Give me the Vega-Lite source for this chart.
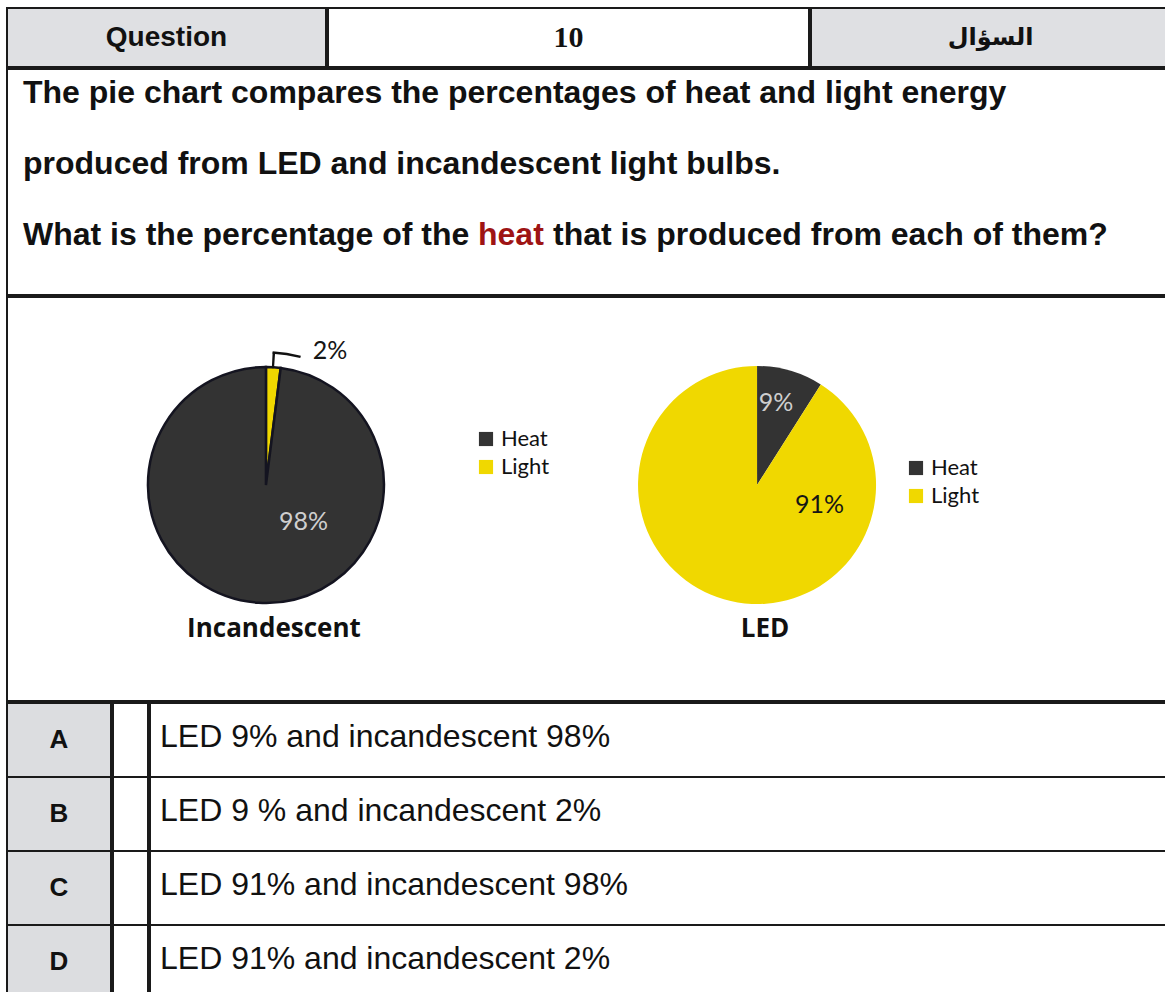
{
  "$schema": "https://vega.github.io/schema/vega-lite/v6.json",
  "padding": {"left": 6, "top": 7, "right": 0, "bottom": 0},
  "background": "#ffffff",
  "spacing": 0,
  "config": {
    "view": {"stroke": null},
    "font": "Liberation Sans",
    "legend": {"symbolType": "square", "symbolSize": 200, "labelFont": "Lato", "labelFontSize": 22, "labelColor": "#111111", "labelOffset": 4, "rowPadding": 6, "symbolStrokeWidth": 0, "padding": 0}
  },
  "resolve": {"scale": {"color": "independent", "fill": "independent"}, "legend": {"color": "independent", "fill": "independent"}},
  "datasets": {
    "question": [
      {"line": 1, "part": "lead", "text": "The pie chart compares the percentages of heat and light energy"},
      {"line": 2, "part": "lead", "text": "produced from LED and incandescent light bulbs."},
      {"line": 3, "part": "lead", "text": "What is the percentage of the"},
      {"line": 3, "part": "keyword", "text": "heat"},
      {"line": 3, "part": "tail", "text": "that is produced from each of them?"}
    ],
    "energy": [
      {"bulb": "Incandescent", "energy": "Light", "pct": 2},
      {"bulb": "Incandescent", "energy": "Heat", "pct": 98},
      {"bulb": "LED", "energy": "Heat", "pct": 9},
      {"bulb": "LED", "energy": "Light", "pct": 91}
    ],
    "labels": [
      {"bulb": "Incandescent", "energy": "Light", "label": "2%", "at": 7.1, "r": 1.26},
      {"bulb": "Incandescent", "energy": "Heat", "label": "98%", "at": 37.3, "r": 0.445},
      {"bulb": "LED", "energy": "Heat", "label": "9%", "at": 3.6, "r": 0.715},
      {"bulb": "LED", "energy": "Light", "label": "91%", "at": 29.9, "r": 0.555}
    ],
    "bulbs": [{"bulb": "Incandescent"}, {"bulb": "LED"}],
    "options": [
      {"opt": "A", "text": "LED 9% and incandescent 98%"},
      {"opt": "B", "text": "LED 9 % and incandescent 2%"},
      {"opt": "C", "text": "LED 91% and incandescent 98%"},
      {"opt": "D", "text": "LED 91% and incandescent 2%"}
    ]
  },
  "vconcat": [
    {
      "spacing": 0,
      "hconcat": [
        {"width": 319, "height": 59, "data": {"values": [{"label": "Question"}]},
         "view": {"fill": "#dfe0e3", "stroke": "#1a1a1a", "strokeWidth": 2},
         "mark": {"type": "text", "fontSize": 28, "fontWeight": "bold", "font": "Liberation Sans", "color": "#111111"},
         "encoding": {"text": {"field": "label"}}},
        {"width": 481, "height": 59, "data": {"values": [{"label": "10"}]},
         "view": {"fill": "#ffffff", "stroke": "#1a1a1a", "strokeWidth": 2},
         "mark": {"type": "text", "fontSize": 30, "fontWeight": "bold", "font": "Liberation Serif", "color": "#111111"},
         "encoding": {"text": {"field": "label"}}},
        {"width": 359, "height": 59, "data": {"values": [{"label": "السؤال"}]},
         "view": {"fill": "#dfe0e3", "stroke": "#1a1a1a", "strokeWidth": 2},
         "mark": {"type": "text", "fontSize": 24, "fontWeight": "bold", "font": "DejaVu Sans", "color": "#111111"},
         "encoding": {"text": {"field": "label"}}}
      ]
    },
    {
      "width": 1159, "height": 226,
      "data": {"name": "question"},
      "view": {"stroke": "#1a1a1a", "strokeWidth": 2},
      "encoding": {
        "x": {"datum": 0, "type": "quantitative", "scale": {"domain": [0, 1], "nice": false}, "axis": null},
        "y": {"field": "line", "type": "ordinal", "scale": {"type": "point", "padding": 0.5915, "align": 0.2857}, "axis": null},
        "text": {"field": "text"}
      },
      "layer": [
        {"transform": [{"filter": "datum.part == 'lead'"}],
         "mark": {"type": "text", "align": "left", "dx": 16, "fontSize": 32, "fontWeight": "bold", "font": "Liberation Sans", "color": "#111111"}},
        {"transform": [{"filter": "datum.part == 'keyword'"}],
         "mark": {"type": "text", "align": "left", "dx": 471, "fontSize": 32, "fontWeight": "bold", "font": "Liberation Sans", "color": "#9e1414"}},
        {"transform": [{"filter": "datum.part == 'tail'"}],
         "mark": {"type": "text", "align": "left", "dx": 546, "fontSize": 32, "fontWeight": "bold", "font": "Liberation Sans", "color": "#111111"}}
      ]
    },
    {
      "width": 1159, "height": 404,
      "view": {"stroke": "#1a1a1a", "strokeWidth": 2},
      "layer": [
        {
          "data": {"name": "energy"},
          "transform": [{"filter": "datum.bulb == 'Incandescent'"}, {"stack": "pct", "groupby": ["bulb"], "as": ["t0", "t1"]}],
          "mark": {"type": "arc", "outerRadius": 118, "stroke": "#141420", "strokeWidth": 2.5},
          "encoding": {
            "x": {"field": "bulb", "type": "nominal", "scale": {"type": "point", "domain": ["Incandescent", "LED"], "padding": 0.68, "align": 0.3877}, "axis": null},
            "y": {"datum": 0, "type": "quantitative", "scale": {"domain": [-1.149, 1], "nice": false, "zero": false}, "axis": null},
            "theta": {"field": "t0", "type": "quantitative", "stack": null, "scale": {"domain": [0, 100], "nice": false}},
            "theta2": {"field": "t1"},
            "color": {"field": "energy", "type": "nominal", "scale": {"range": ["#333333", "#f0d800"]},
                      "legend": {"orient": "none", "legendX": 468, "legendY": 131, "title": null}}
          }
        },
        {
          "data": {"name": "energy"},
          "transform": [{"filter": "datum.bulb == 'LED'"}, {"stack": "pct", "groupby": ["bulb"], "as": ["t0", "t1"]}],
          "mark": {"type": "arc", "outerRadius": 119},
          "encoding": {
            "x": {"field": "bulb", "type": "nominal", "scale": {"type": "point", "domain": ["Incandescent", "LED"], "padding": 0.68, "align": 0.3877}, "axis": null},
            "y": {"datum": 0, "type": "quantitative", "scale": {"domain": [-1.149, 1], "nice": false, "zero": false}, "axis": null},
            "theta": {"field": "t0", "type": "quantitative", "stack": null, "scale": {"domain": [0, 100], "nice": false}},
            "theta2": {"field": "t1"},
            "fill": {"field": "energy", "type": "nominal", "scale": {"range": ["#333333", "#f0d800"]},
                     "legend": {"orient": "none", "legendX": 898, "legendY": 160, "title": null}}
          }
        },
        {
          "data": {"name": "bulbs"},
          "transform": [{"filter": "datum.bulb == 'Incandescent'"}],
          "mark": {"type": "arc", "radius": 133, "radius2": 117, "color": "#111111"},
          "encoding": {
            "x": {"field": "bulb", "type": "nominal", "scale": {"type": "point", "domain": ["Incandescent", "LED"], "padding": 0.68, "align": 0.3877}, "axis": null},
            "y": {"datum": 0, "type": "quantitative", "scale": {"domain": [-1.149, 1], "nice": false, "zero": false}, "axis": null},
            "theta": {"datum": 0.8, "type": "quantitative", "scale": {"domain": [0, 100], "nice": false}},
            "theta2": {"datum": 1.1}
          }
        },
        {
          "data": {"name": "bulbs"},
          "transform": [{"filter": "datum.bulb == 'Incandescent'"}],
          "mark": {"type": "arc", "radius": 134, "radius2": 131.5, "color": "#111111"},
          "encoding": {
            "x": {"field": "bulb", "type": "nominal", "scale": {"type": "point", "domain": ["Incandescent", "LED"], "padding": 0.68, "align": 0.3877}, "axis": null},
            "y": {"datum": 0, "type": "quantitative", "scale": {"domain": [-1.149, 1], "nice": false, "zero": false}, "axis": null},
            "theta": {"datum": 0.8, "type": "quantitative", "scale": {"domain": [0, 100], "nice": false}},
            "theta2": {"datum": 4.2}
          }
        },
        {
          "data": {"name": "labels"},
          "transform": [{"filter": "datum.energy == 'Heat'"}],
          "mark": {"type": "text", "font": "Lato", "fontSize": 25, "color": "#cfcfcf"},
          "encoding": {
            "x": {"field": "bulb", "type": "nominal", "scale": {"type": "point", "domain": ["Incandescent", "LED"], "padding": 0.68, "align": 0.3877}, "axis": null},
            "y": {"datum": 0, "type": "quantitative", "scale": {"domain": [-1.149, 1], "nice": false, "zero": false}, "axis": null},
            "theta": {"field": "at", "type": "quantitative", "stack": null, "scale": {"domain": [0, 100], "nice": false}},
            "radius": {"field": "r", "type": "quantitative", "scale": {"type": "linear", "domain": [0, 1], "range": [0, 118], "nice": false, "zero": true}},
            "text": {"field": "label"}
          }
        },
        {
          "data": {"name": "labels"},
          "transform": [{"filter": "datum.energy == 'Light'"}],
          "mark": {"type": "text", "font": "Lato", "fontSize": 25, "color": "#151515"},
          "encoding": {
            "x": {"field": "bulb", "type": "nominal", "scale": {"type": "point", "domain": ["Incandescent", "LED"], "padding": 0.68, "align": 0.3877}, "axis": null},
            "y": {"datum": 0, "type": "quantitative", "scale": {"domain": [-1.149, 1], "nice": false, "zero": false}, "axis": null},
            "theta": {"field": "at", "type": "quantitative", "stack": null, "scale": {"domain": [0, 100], "nice": false}},
            "radius": {"field": "r", "type": "quantitative", "scale": {"type": "linear", "domain": [0, 1], "range": [0, 118], "nice": false, "zero": true}},
            "text": {"field": "label"}
          }
        },
        {
          "data": {"name": "bulbs"},
          "mark": {"type": "text", "font": "Open Sans", "fontSize": 26, "fontWeight": "bold", "color": "#111111", "radius": 144, "dx": 8},
          "encoding": {
            "x": {"field": "bulb", "type": "nominal", "scale": {"type": "point", "domain": ["Incandescent", "LED"], "padding": 0.68, "align": 0.3877}, "axis": null},
            "y": {"datum": 0, "type": "quantitative", "scale": {"domain": [-1.149, 1], "nice": false, "zero": false}, "axis": null},
            "theta": {"datum": 50, "type": "quantitative", "scale": {"domain": [0, 100], "nice": false}},
            "text": {"field": "bulb"}
          }
        }
      ]
    },
    {
      "spacing": 0,
      "hconcat": [
        {
          "width": 104, "height": 296,
          "data": {"name": "options"},
          "encoding": {"y": {"field": "opt", "type": "nominal", "scale": {"paddingInner": 0, "paddingOuter": 0}, "axis": null}},
          "layer": [
            {"mark": {"type": "rect", "fill": "#dcdde0", "stroke": "#1a1a1a", "strokeWidth": 2}},
            {"mark": {"type": "text", "fontSize": 26, "fontWeight": "bold", "font": "Liberation Sans", "color": "#111111"},
             "encoding": {"text": {"field": "opt"}}}
          ]
        },
        {
          "width": 35, "height": 296,
          "data": {"name": "options"},
          "encoding": {"y": {"field": "opt", "type": "nominal", "scale": {"paddingInner": 0, "paddingOuter": 0}, "axis": null}},
          "mark": {"type": "rect", "fill": "#ffffff", "stroke": "#1a1a1a", "strokeWidth": 2}
        },
        {
          "width": 1020, "height": 296,
          "data": {"name": "options"},
          "encoding": {"y": {"field": "opt", "type": "nominal", "scale": {"paddingInner": 0, "paddingOuter": 0}, "axis": null}},
          "layer": [
            {"mark": {"type": "rect", "fill": "#ffffff", "stroke": "#1a1a1a", "strokeWidth": 2}},
            {"mark": {"type": "text", "align": "left", "dx": 10, "dy": -3, "fontSize": 32, "font": "Liberation Sans", "color": "#111111"},
             "encoding": {"x": {"datum": 0, "type": "quantitative", "scale": {"domain": [0, 1], "nice": false}, "axis": null},
                          "text": {"field": "text"}}}
          ]
        }
      ]
    }
  ]
}
